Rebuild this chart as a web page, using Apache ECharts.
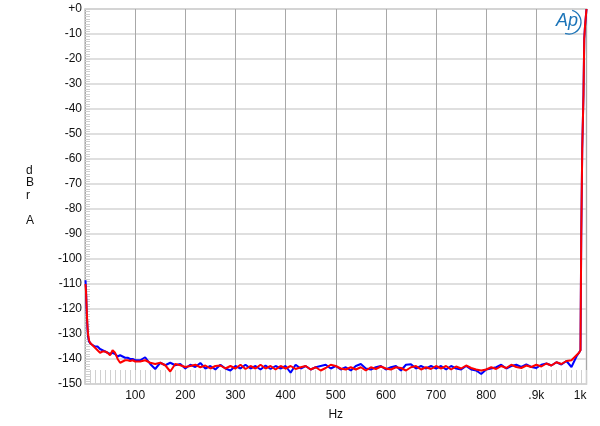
<!DOCTYPE html>
<html>
<head>
<meta charset="utf-8">
<script src="https://cdn.jsdelivr.net/npm/echarts@6/dist/echarts.min.js"></script>
<style>
  html, body { margin: 0; padding: 0; background: #fff; }
  #chart { width: 600px; height: 426px; }
</style>
</head>
<body>
<div id="chart"></div>
<script>
// frequency points (Hz)
var freqs = [1, 2, 3, 4, 5, 6, 8, 10, 12, 15, 20, 25, 30, 35, 40, 45, 50, 55, 60, 65, 70, 75, 80, 85, 90, 95,
  100, 110, 120, 130, 140, 150, 160, 170, 180, 190,
  200, 210, 220, 230, 240, 250, 260, 270, 280, 290,
  300, 310, 320, 330, 340, 350, 360, 370, 380, 390,
  400, 410, 420, 430, 440, 450, 460, 470, 480, 490,
  500, 510, 520, 530, 540, 550, 560, 570, 580, 590,
  600, 610, 620, 630, 640, 650, 660, 670, 680, 690,
  700, 710, 720, 730, 740, 750, 760, 770, 780, 790,
  800, 810, 820, 830, 840, 850, 860, 870, 880, 890,
  900, 910, 920, 930, 940, 950, 960, 970, 980, 985, 988];

var blueDb = [-108.5, -112, -119, -124, -128, -131, -133, -133.5, -134, -134.5, -135, -135, -136, -136.5, -137, -137.5, -138, -137.5, -138, -139, -138.5, -139, -139.5, -139.5, -140, -140,
  -140.5, -140.5, -139.3, -142, -144, -141.5, -142.5, -141.5, -142.5, -142,
  -143.8, -142.3, -143.2, -141.6, -143.8, -142.8, -144.2, -142.3, -143.8, -144.6,
  -142.8, -143.8, -142.3, -143.8, -142.8, -144.2, -142.6, -144, -142.8, -143.8,
  -142.8, -145.5, -142.3, -143.8, -142.8, -144.2, -143.3, -142.8, -142.3, -143.8,
  -142.8, -144.2, -143.3, -144.6, -142.8, -142, -143.8, -144.2, -143.3, -142.8,
  -144.2, -143.3, -142.8, -144.6, -142.3, -142.1, -143.8, -142.8, -143.8, -142.8,
  -143.8, -142.8, -144.2, -142.8, -143.8, -144.2, -142.8, -144.2, -144.6, -146,
  -144.2, -143.8, -143.3, -142.3, -143.8, -142.8, -142.3, -143.2, -142.2, -143.2,
  -143.6, -142.3, -141.8, -142.6, -141.3, -142.2, -140.8, -143.2, -139, -137.5, -136.5];

var redDb = [-110, -113, -118, -123, -127, -130, -132.5, -133.5, -134, -134.5, -135.5, -136.5, -137.5, -137, -137, -137.5, -138.5, -136.5, -137.5, -140, -141.5, -141, -140.5, -140.5, -140.8, -140.5,
  -141, -141, -140.5, -141.5, -142, -141.5, -142.5, -145, -142, -142.5,
  -143.2, -142.8, -142.3, -143.3, -142.6, -143.8, -142.8, -142.6, -143.8, -142.8,
  -143.8, -142.3, -144, -142.8, -143.8, -142.3, -143.8, -142.8, -144.2, -142.8,
  -143.8, -142.8, -144, -143.3, -142.8, -144.2, -143.3, -144.6, -143.6, -142.3,
  -142.8, -143.8, -144.2, -143.3, -144.2, -143.3, -144.6, -143.3, -144, -143,
  -143.8, -144.2, -143.3, -143.6, -144.6, -143.3, -142.8, -144.2, -143.3, -144,
  -142.8, -143.8, -142.8, -144.2, -143, -143.8, -142.6, -143.6, -144.2, -144.6,
  -144.2, -143.3, -144, -142.8, -143.6, -142.3, -143.2, -143.6, -142.6, -143.2,
  -142.3, -143, -141.8, -142.6, -141.3, -142, -140.8, -140.5, -138.5, -137.5, -136.5];

// the 1 kHz tone, same for both channels
var toneFreqs = [989.5, 991, 991.5, 993.5, 994, 995, 995.5, 997, 1000];
var toneDb = [-91.5, -91.5, -56, -56, -34, -33.5, -12, -7, 0];

var xTickValues = [100, 200, 300, 400, 500, 600, 700, 800, 900, 1000];
var xTickLabels = ['100', '200', '300', '400', '500', '600', '700', '800', '.9k', '1k'];

function pairs(xs, ys) {
  var out = [];
  for (var i = 0; i < xs.length; i++) out.push([xs[i], ys[i]]);
  return out;
}
var blueData = pairs(freqs, blueDb).concat(pairs(toneFreqs, toneDb));
var redData = pairs(freqs, redDb).concat(pairs(toneFreqs, toneDb));

var font = 'Liberation Sans, Arial, sans-serif';
var chart = echarts.init(document.getElementById('chart'));
var option = {
  backgroundColor: '#fff',
  animation: false,
  grid: {
    left: 85, right: 13.5, top: 9, bottom: 42,
    show: true, borderColor: '#c4c4c4', borderWidth: 1.5
  },
  xAxis: {
    type: 'value', min: 0, max: 1000, interval: 100,
    name: 'Hz', nameLocation: 'middle', nameGap: 25,
    nameTextStyle: { color: '#111', fontSize: 12, fontFamily: font },
    axisLine: { show: false, onZero: false },
    axisTick: { show: true, inside: true, length: 14, lineStyle: { color: '#d0d0d0', width: 1 } },
    minorTick: { show: true, splitNumber: 10, length: 14, lineStyle: { color: '#d0d0d0', width: 1 } },
    axisLabel: {
      color: '#111', fontSize: 12, fontFamily: font, margin: 6,
      showMinLabel: false, alignMaxLabel: 'right',
      formatter: function (v) {
        var i = xTickValues.indexOf(v);
        return i < 0 ? '' : xTickLabels[i];
      }
    },
    splitLine: { show: true, lineStyle: { color: '#a8a8a8', width: 1 } }
  },
  yAxis: {
    type: 'value', min: -150, max: 0, interval: 10,
    axisLine: { show: false, onZero: false },
    axisTick: { show: true, inside: true, length: 5, lineStyle: { color: '#d0d0d0', width: 1 } },
    minorTick: { show: true, splitNumber: 10, length: 5, lineStyle: { color: '#d0d0d0', width: 1 } },
    axisLabel: {
      color: '#111', fontSize: 12, fontFamily: font, margin: 3,
      formatter: function (v) { return v === 0 ? '+0' : String(v); }
    },
    splitLine: { show: true, lineStyle: { color: '#d4d4d4', width: 1.5 } }
  },
  graphic: [
    {
      type: 'text', left: 26, top: 164, z: 10,
      style: { text: 'd\nB\nr\n\nA', fill: '#111', font: '12px ' + font, lineHeight: 12.7, align: 'center' }
    },
    {
      type: 'text', x: 556, y: 12, z: 10,
      style: { text: 'Ap', fill: '#1b74b8', font: 'italic 18px ' + font }
    },
    {
      type: 'arc', z: 10,
      shape: { cx: 569, cy: 22, r: 12, startAngle: -1.3, endAngle: 1.9 },
      style: { stroke: '#1b74b8', lineWidth: 1.3, fill: 'none' }
    }
  ],
  series: [
    {
      name: 'blue', type: 'line', data: blueData, showSymbol: false,
      lineStyle: { color: '#0000ff', width: 2 }, z: 3
    },
    {
      name: 'red', type: 'line', data: redData, showSymbol: false,
      lineStyle: { color: '#ff0000', width: 2 }, z: 4
    }
  ]
};
chart.setOption(option);
</script>
</body>
</html>
